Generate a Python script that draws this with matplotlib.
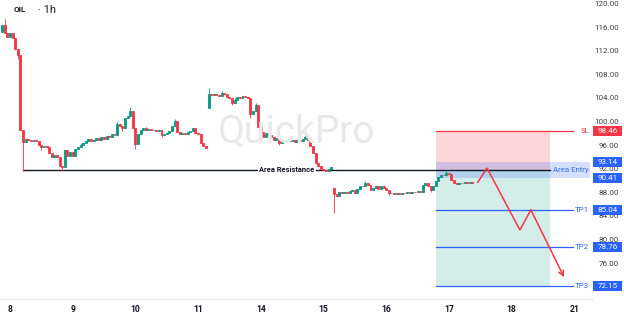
import matplotlib
matplotlib.use("Agg")
import matplotlib.pyplot as plt
from matplotlib.patches import Rectangle
from matplotlib.transforms import blended_transform_factory

plt.rcParams['font.family'] = ['Roboto', 'DejaVu Sans']

# hourly candles, bar 0 = start of day 8, 24 bars per day
first_bar = -3
closes = [
    116.3, 115.0, 114.3, 115.0, 114.2, 112.2, 111.3, 98.6, 96.5,
    97.0, 96.8, 96.6, 96.9, 96.7, 96.0, 95.6, 95.9, 95.7, 94.6, 93.9, 94.3, 93.9, 92.5, 92.2,
    95.2, 94.2, 94.8, 94.2, 95.3, 95.6, 96.0, 96.3, 96.7, 97.0, 96.6, 96.9, 97.2, 96.8, 97.3, 97.1, 97.6, 97.3, 97.9, 97.7,
    99.6, 99.2, 98.8, 100.5, 101.0, 101.8, 98.9, 96.2, 97.8, 98.5, 98.9, 98.6, 98.7, 98.5, 98.6, 98.4, 98.5, 97.7, 97.9, 98.1,
    98.3, 99.3, 100.1, 98.2, 97.9, 98.1, 97.8, 98.2, 98.4, 98.9, 98.1, 97.8, 96.3, 95.9, 95.5,
    104.7, 104.5, 104.7, 104.4, 104.3, 104.9, 104.6, 104.2, 103.9, 103.1, 103.6, 104.2, 104.0, 104.3, 104.1, 103.9, 101.3, 101.7, 102.7, 99.1,
    98.2, 97.4, 98.0, 97.7, 97.3, 96.9, 97.2, 96.4, 96.8, 96.6, 96.9, 96.7, 96.9, 96.5, 96.8, 96.6, 97.0, 97.4, 96.9, 95.8,
    94.6, 93.0, 92.4, 92.0, 91.8, 91.6, 92.0, 92.2,
    87.7, 87.4, 88.0, 87.8, 88.1, 87.8, 88.2, 88.4, 87.9, 88.5, 89.1, 89.0, 89.6, 89.3, 88.4, 88.7, 89.1, 88.6, 89.0, 88.7,
    88.3, 87.8, 87.9, 87.7, 87.8, 87.7, 87.9, 87.8, 88.0, 87.9, 88.1, 88.0, 88.2, 88.1, 89.3, 89.5, 89.1, 88.3, 89.0, 89.9,
    90.5, 91.0, 90.9, 91.2, 91.1, 90.0, 89.6, 89.4, 89.6, 89.5, 89.7, 89.6, 89.7, 89.5,
]
gap_opens = {-3: 115.2, 76: 102.2, 124: 88.7}
highs = {-2: 117.4, 41: 99.9, 46: 102.5, 63: 100.4, 76: 105.6, 81: 105.2, 94: 103.1, 113: 97.7,
         136: 89.9, 167: 91.7, 27: 96.4, 52: 99.1, 86: 104.0}
lows = {3: 110.6, 5: 91.6, 20: 91.6, 48: 95.4, 92: 100.5, 103: 96.0, 124: 84.5, 161: 88.0,
        12: 95.2, 43: 98.4, 58: 97.3, 85: 102.8, 145: 87.5}

day_ticks = [0, 24, 48, 72, 96, 120, 144, 168, 192, 216]
day_labels = ['8', '9', '10', '11', '14', '15', '16', '17', '18', '21']
price_ticks = [76, 80, 84, 88, 92, 96, 100, 104, 108, 112, 116, 120]

resistance = 91.75
res_start = 5
res_label_at = 106
entry_top, entry_bottom = 93.14, 90.41
stop_loss = 98.46
targets = [85.04, 78.76, 72.15]
target_names = ['TP1', 'TP2', 'TP3']
trade_start, trade_end = 162.9, 206.7
levels_end = 215.5
entry_end = 222.0

path_x = [179.1, 182.6, 195.2, 199.4, 212.1]
path_y = [89.7, 92.1, 81.6, 85.0, 73.6]

GREEN = '#089981'
RED = '#f23645'
BLUE = '#2962ff'
DARK = '#131722'

fig = plt.figure(figsize=(6.24, 3.16), dpi=100)
ax = fig.add_axes([0, 1 - 299 / 316, 592 / 624, 299 / 316])
ax.set_xlim(-3.83, 222.8)
ax.set_ylim(69.9, 120.58)

# candles
bars = list(range(first_bar, first_bar + len(closes)))
opens = []
for i, b in enumerate(bars):
    if b in gap_opens:
        opens.append(gap_opens[b])
    else:
        opens.append(closes[i - 1])
for b, o, c in zip(bars, opens, closes):
    col = GREEN if c >= o else RED
    hi = highs.get(b, max(o, c))
    lo = lows.get(b, min(o, c))
    ax.vlines(b, lo, hi, color=col, lw=0.6, zorder=4)
    ax.bar(b, c - o, bottom=o, width=0.75, color=col, edgecolor=col, linewidth=0.6, zorder=5)

# trade zones
ax.add_patch(Rectangle((trade_start, resistance), trade_end - trade_start, stop_loss - resistance,
                       facecolor=RED, alpha=0.2, lw=0, zorder=1))
ax.add_patch(Rectangle((trade_start, targets[-1]), trade_end - trade_start, resistance - targets[-1],
                       facecolor=GREEN, alpha=0.17, lw=0, zorder=1))
ax.add_patch(Rectangle((trade_start, entry_bottom), entry_end - trade_start, entry_top - entry_bottom,
                       facecolor=BLUE, alpha=0.2, lw=0, zorder=2))

# resistance line
ax.plot([res_start, trade_end], [resistance, resistance], color=DARK, lw=1.0, zorder=3)
ax.text(res_label_at, resistance, 'Area Resistance', ha='center', va='center',
        fontsize=5.4, fontweight='bold', color=DARK, zorder=6,
        bbox=dict(facecolor='white', edgecolor='none', pad=1.2))

# SL / TP lines
ax.plot([trade_start, levels_end], [stop_loss, stop_loss], color=RED, lw=0.9, zorder=3)
for t in targets:
    ax.plot([trade_start, levels_end], [t, t], color=BLUE, lw=0.9, zorder=3)

# zigzag projection
ax.plot(path_x[:-1], path_y[:-1], color=RED, lw=1.1, zorder=7, solid_joinstyle='miter')
ax.annotate('', xy=(path_x[-1], path_y[-1]), xytext=(path_x[-2], path_y[-2]),
            arrowprops=dict(arrowstyle='->', color=RED, lw=1.1, mutation_scale=9, shrinkA=0, shrinkB=0),
            zorder=7)

# axes styling
for s in ['top', 'left', 'right']:
    ax.spines[s].set_visible(False)
ax.spines['bottom'].set_color('#e0e3eb')
ax.spines['bottom'].set_linewidth(0.8)
ax.yaxis.tick_right()
ax.set_yticks(price_ticks, ['%.2f' % p for p in price_ticks])
ax.tick_params(axis='y', length=0, pad=19.5, labelsize=5.8, labelcolor='#3f3f3f')
for lab in ax.get_yticklabels():
    lab.set_horizontalalignment('right')
ax.set_xticks(day_ticks, day_labels)
ax.tick_params(axis='x', length=0, pad=4, labelsize=6.2, labelcolor=DARK)
for lab in ax.get_xticklabels():
    lab.set_fontweight('bold')

# level labels and price boxes
tr = blended_transform_factory(fig.transFigure, ax.transData)
lab_x = 589 / 624
ax.text(lab_x, stop_loss, 'SL', transform=tr, ha='right', va='center', fontsize=5.7, color=RED, zorder=8)
for t, name in zip(targets, target_names):
    ax.text(lab_x, t, name, transform=tr, ha='right', va='center', fontsize=5.7, color=BLUE, zorder=8)
ax.text(lab_x, (entry_top + entry_bottom) / 2, 'Area Entry', transform=tr, ha='right', va='center',
        fontsize=5.7, color='#3d6fe0', zorder=8)

box_h = 10 / 5.9
box_levels = [stop_loss, entry_top, entry_bottom] + targets
box_colors = [RED, BLUE, BLUE] + [BLUE] * len(targets)
for p, col in zip(box_levels, box_colors):
    ax.add_patch(Rectangle((593 / 624, p - box_h / 2), 29 / 624, box_h, transform=tr,
                           facecolor=col, edgecolor='none', clip_on=False, zorder=9))
    ax.text(607.5 / 624, p, '%.2f' % p, transform=tr, ha='center', va='center', fontsize=5.8,
            color='white', zorder=10, clip_on=False)

# title and watermark
fig.text(14 / 624, 1 - 10 / 316, 'OIL', ha='left', va='center', fontsize=5.8, fontweight='bold', color=DARK)
fig.text(38 / 624, 1 - 10 / 316, '\u00b7 1h', ha='left', va='center', fontsize=8, color=DARK)
fig.text(296.5 / 624, 1 - 143 / 316, 'QuickPro', ha='center', va='baseline', fontsize=28,
         color='#e9e9e9', zorder=0)

fig.savefig('out.png', dpi=100)
